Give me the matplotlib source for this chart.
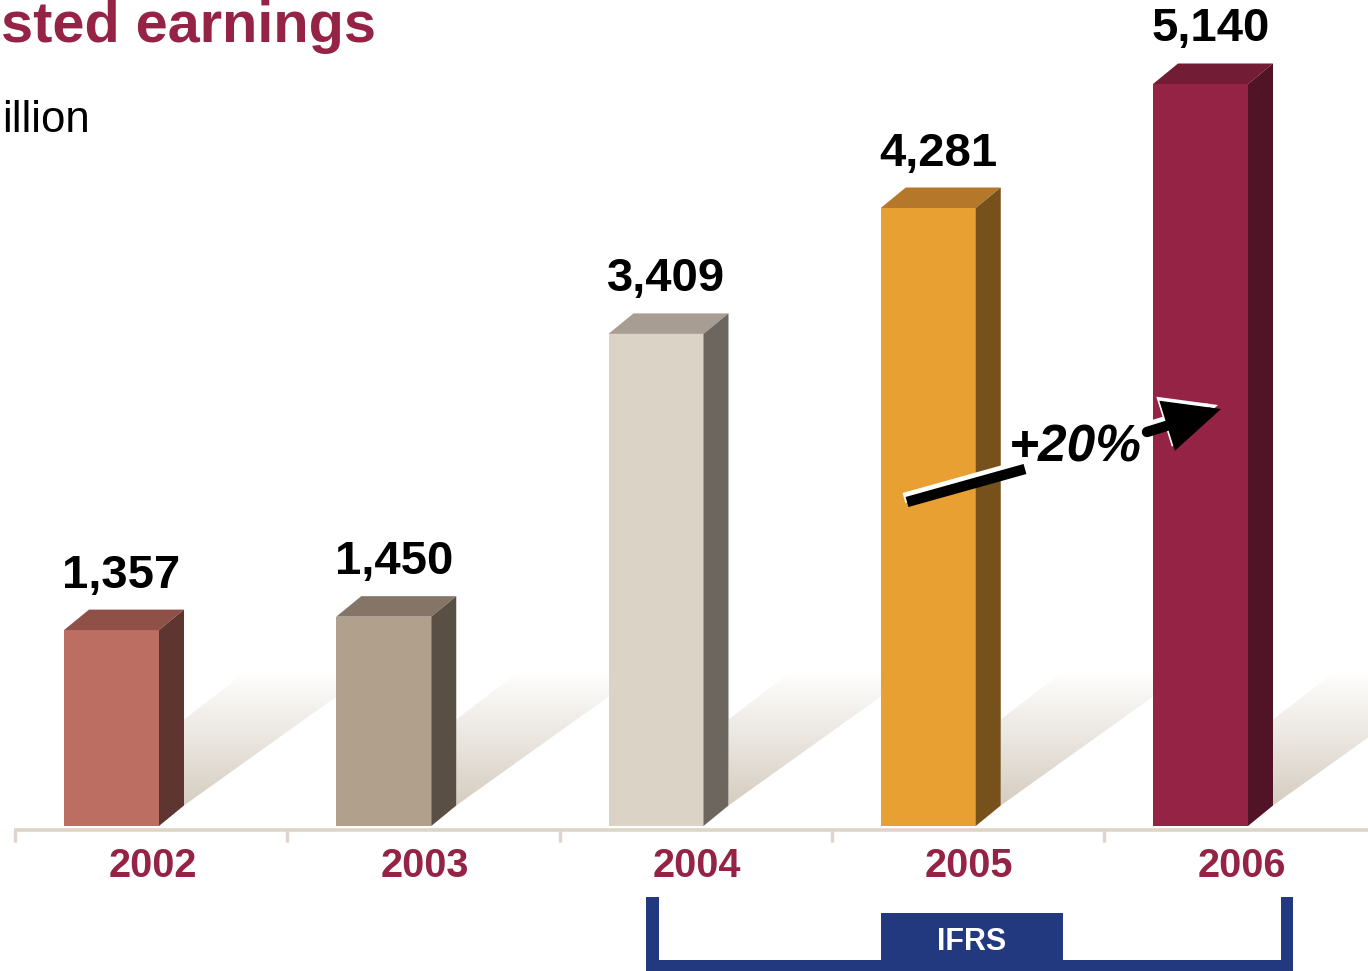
import matplotlib
matplotlib.use('Agg')
import matplotlib.pyplot as plt
import numpy as np
from matplotlib.patches import Polygon, Rectangle
from matplotlib.colors import LinearSegmentedColormap

plt.rcParams['font.family'] = ['Liberation Sans', 'DejaVu Sans']

# data
years = ['2002', '2003', '2004', '2005', '2006']
earnings = [1357, 1450, 3409, 4281, 5140]
front_colors = ['#bd6e62', '#b0a08c', '#dbd3c6', '#e8a033', '#952346']
top_colors = ['#8f5048', '#847566', '#a79d92', '#b5782a', '#721c35']
side_colors = ['#5e3530', '#5a4f45', '#6d665f', '#77511c', '#511427']
title = 'sted earnings'
unit = 'illion'
growth_label = '+20%'
ifrs_label = 'IFRS'

maroon = '#952346'
navy = '#22397f'

W, H = 1368, 971
fig = plt.figure(figsize=(W / 100, H / 100), dpi=100)

# scale of the reference picture
PX = 272.25          # px per category
PY = 742 / 5140      # px per unit of earnings
ax = fig.add_axes([0, 0, 1, 1])
ax.axis('off')

x = np.arange(len(years))
bw = 95 / PX
ddx, ddy = 25 / PX, 20.5 / PY

# shadows behind the bars
cmap = LinearSegmentedColormap.from_list('shade', ['#d6cdc0', '#ffffff'])
grad = np.linspace(0, 1, 256).reshape(-1, 1)
for xi in x:
    bx, by = xi + bw / 2 + ddx, ddy
    pts = [(bx, by), (bx, by + 86 / PY), (bx + 61 / PX, by + 133 / PY),
           (bx + 186 / PX, by + 133 / PY)]
    poly = Polygon(pts, closed=True, fc='none', ec='none')
    ax.add_patch(poly)
    im = ax.imshow(grad, cmap=cmap, origin='lower', aspect='auto',
                   extent=[bx, bx + 186 / PX, by, by + 133 / PY], zorder=1)
    im.set_clip_path(poly)

# bars with top and side faces
ax.bar(x, earnings, width=bw, color=front_colors, zorder=3)
for xi, v, tc, sc in zip(x, earnings, top_colors, side_colors):
    l, r = xi - bw / 2, xi + bw / 2
    ax.add_patch(Polygon([(l, v), (r, v), (r + ddx, v + ddy), (l + ddx, v + ddy)],
                         closed=True, fc=tc, ec='none', zorder=3))
    ax.add_patch(Polygon([(r, 0), (r + ddx, ddy), (r + ddx, v + ddy), (r, v)],
                         closed=True, fc=sc, ec='none', zorder=3))
    ax.text(xi + 10 / PX, v + ddy + 22 / PY, f'{v:,}', ha='center', va='baseline',
            fontsize=34, fontweight='bold', zorder=5)

ax.set_xlim(-111.5 / PX, (W - 111.5) / PX)
ax.set_ylim(-(H - 826) / PY, 826 / PY)

# baseline and ticks
base_y = -3.5 / PY
ax.plot([-97.5 / PX, (W - 111.5) / PX], [base_y, base_y], color='#ddd5c8',
        lw=2.6, solid_capstyle='butt', zorder=2)
ticks = x - 96.5 / PX
ax.vlines(ticks, -16 / PY, base_y, color='#ddd5c8', lw=2.4, zorder=2)

for xi, yr in zip(x, years):
    ax.text(xi + 41 / PX, -51 / PY, yr, ha='center', va='baseline',
            fontsize=28.5, fontweight='bold', color=maroon)

# overlay in pixel coordinates for title, arrow and bracket
ov = fig.add_axes([0, 0, 1, 1])
ov.set_xlim(0, W)
ov.set_ylim(H, 0)
ov.axis('off')

ov.text(1, 42, title, ha='left', va='baseline', fontsize=41.5,
        fontweight='bold', color=maroon)
ov.text(2, 132, unit, ha='left', va='baseline', fontsize=31.5)


def growth_arrow(dx, dy, color):
    ov.plot([907 + dx, 1025 + dx], [502 + dy, 469 + dy], color=color, lw=7.5,
            solid_capstyle='butt')
    ov.annotate('', xy=(1221 + dx, 409 + dy), xytext=(1147 + dx, 432 + dy),
                arrowprops=dict(arrowstyle='-|>,head_length=1.4,head_width=0.65',
                                color=color, lw=7.5, mutation_scale=20,
                                shrinkA=0, shrinkB=0, joinstyle='miter'))


growth_arrow(-3, -4, 'white')
growth_arrow(0, 0, 'black')
ov.text(1075, 461, growth_label, ha='center', va='baseline', fontsize=37,
        fontweight='bold', style='italic')

# IFRS bracket
ov.add_patch(Rectangle((646, 897), 13, 74, fc=navy, ec='none'))
ov.add_patch(Rectangle((1281, 897), 12, 74, fc=navy, ec='none'))
ov.add_patch(Rectangle((646, 960), 647, 11, fc=navy, ec='none'))
ov.add_patch(Rectangle((881, 913), 182, 48, fc=navy, ec='none'))
ov.text(971.5, 950, ifrs_label, ha='center', va='baseline', fontsize=22,
        fontweight='bold', color='white')

fig.savefig('out.png', dpi=100)
